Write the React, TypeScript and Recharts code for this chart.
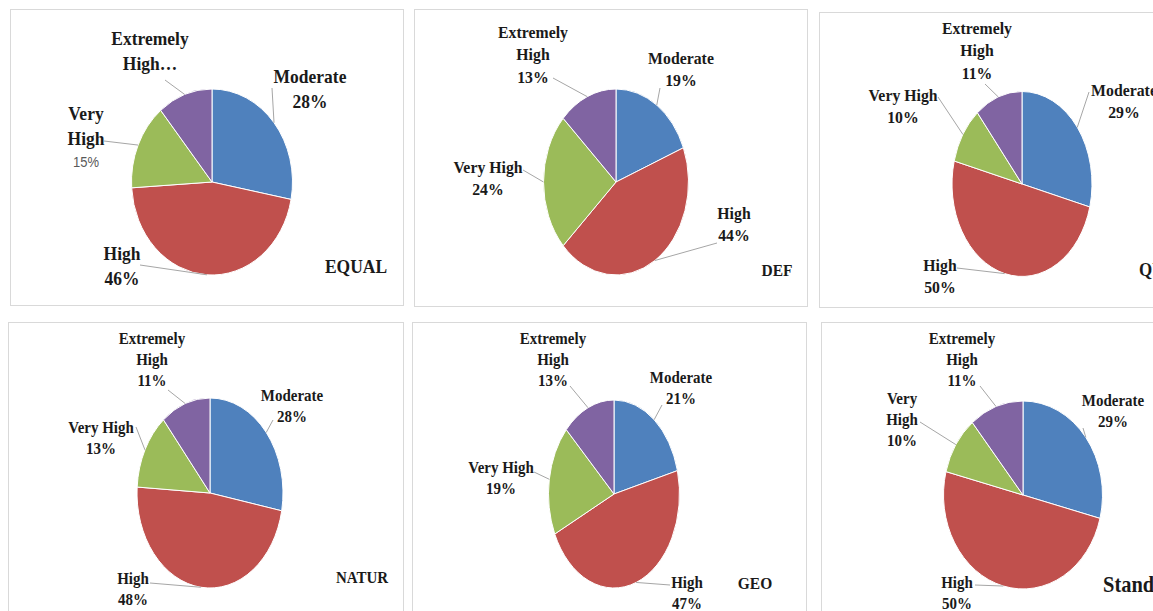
import { PieChart, Pie, Cell } from "recharts";

// 등급 / 색 (Excel 2007 팔레트)
const LEVELS = ["Moderate", "High", "Very High", "Extremely High"];
const SLICE_COLORS = ["#4F81BD", "#C0504D", "#9BBB59", "#8064A2"];

// 분류 방법별 비율(%)
const EQUAL_VALUES = [28, 46, 15, 11];
const DEF_VALUES = [19, 44, 24, 13];
const QUANTILE_VALUES = [29, 50, 10, 11];
const NATUR_VALUES = [28, 48, 13, 11];
const GEO_VALUES = [21, 47, 19, 13];
const STANDARD_VALUES = [29, 50, 10, 11];

const METHOD_NAMES = ["EQUAL", "DEF", "QUANTILE", "NATUR", "GEO", "Standard"];

const RAD = Math.PI / 180;

type LabelSpec = { x: number; y: number; ax: number; ay: number; split?: boolean; anchor?: "start" | "middle" };
type Panel = {
  values: number[];
  name: string;
  box: [number, number, number, number]; // left, top, width, height (page px)
  pie: [number, number, number, number]; // cx, cy, rx, ry (page px)
  font: number;
  labels: LabelSpec[];
  nameAt: [number, number, "start" | "middle"];
  nameFont: number;
  truncateTop?: boolean;
  plainPct?: number;
};

// 라벨 배치는 페이지 좌표로 적고 패널 원점만큼 빼서 쓴다.
const PANELS: Panel[] = [
  {
    values: EQUAL_VALUES,
    name: METHOD_NAMES[0],
    box: [10, 9, 394, 297],
    pie: [207, 177, 80.5, 93],
    font: 17.5,
    labels: [
      { x: 310, y: 76, ax: 272, ay: 88 },
      { x: 122, y: 253, ax: 140, ay: 265 },
      { x: 86, y: 113, ax: 104, ay: 141, split: true },
      { x: 150, y: 38, ax: 165, ay: 80, split: true },
    ],
    nameAt: [356, 266, "middle"],
    nameFont: 17.5,
    truncateTop: true,
    plainPct: 2,
  },
  {
    values: DEF_VALUES,
    name: METHOD_NAMES[1],
    box: [414, 9, 394, 298],
    pie: [611, 177, 72.5, 93],
    font: 15.8,
    labels: [
      { x: 681, y: 58, ax: 660, ay: 88 },
      { x: 734, y: 213, ax: 717, ay: 243 },
      { x: 488, y: 167, ax: 523, ay: 170 },
      { x: 533, y: 32, ax: 553, ay: 78, split: true },
    ],
    nameAt: [777, 270, "middle"],
    nameFont: 15.5,
  },
  {
    values: QUANTILE_VALUES,
    name: METHOD_NAMES[2],
    box: [819, 12, 420, 296],
    pie: [1017, 179, 70, 92.5],
    font: 15.8,
    labels: [
      { x: 1124, y: 90, ax: 1089, ay: 92 },
      { x: 940, y: 265, ax: 957, ay: 268 },
      { x: 903, y: 95, ax: 938, ay: 97 },
      { x: 977, y: 28, ax: 985, ay: 84, split: true },
    ],
    nameAt: [1139, 270, "start"],
    nameFont: 17,
  },
  {
    values: NATUR_VALUES,
    name: METHOD_NAMES[3],
    box: [8, 322, 396, 300],
    pie: [205, 488, 73, 95],
    font: 15,
    labels: [
      { x: 292, y: 395, ax: 273, ay: 420 },
      { x: 133, y: 578, ax: 150, ay: 583 },
      { x: 101, y: 427, ax: 136, ay: 427 },
      { x: 152, y: 338, ax: 168, ay: 390, split: true },
    ],
    nameAt: [362, 577, "middle"],
    nameFont: 15,
  },
  {
    values: GEO_VALUES,
    name: METHOD_NAMES[4],
    box: [412, 322, 395, 300],
    pie: [609, 489, 65.5, 94],
    font: 15,
    labels: [
      { x: 681, y: 377, ax: 662, ay: 405 },
      { x: 687, y: 582, ax: 670, ay: 585 },
      { x: 501, y: 467, ax: 534, ay: 472 },
      { x: 553, y: 338, ax: 570, ay: 386, split: true },
    ],
    nameAt: [755, 583, "middle"],
    nameFont: 15.5,
  },
  {
    values: STANDARD_VALUES,
    name: METHOD_NAMES[5],
    box: [821, 322, 420, 300],
    pie: [1018, 490, 79.5, 94],
    font: 15,
    labels: [
      { x: 1113, y: 400, ax: 1083, ay: 428 },
      { x: 957, y: 582, ax: 975, ay: 585 },
      { x: 902, y: 398, ax: 920, ay: 422, split: true },
      { x: 962, y: 338, ax: 980, ay: 386, split: true },
    ],
    nameAt: [1103, 585, "start"],
    nameFont: 20.5,
  },
];

function labelLines(panel: Panel, i: number): string[] {
  const level = LEVELS[i];
  const pct = `${panel.values[i]}%`;
  const spec = panel.labels[i];
  const head = spec.split ? level.split(" ") : [level];
  if (panel.truncateTop && i === 3) return [head[0], "High…"];
  return [...head, pct];
}

/** 타원 조각: 라이브러리가 준 각도를 rx/ry 타원 위에 그린다. */
function ellipseSlice(rx: number) {
  return (props: any) => {
    const { cx, cy, outerRadius, startAngle, endAngle, fill } = props;
    const ry = outerRadius;
    const sx = cx + rx * Math.cos(-startAngle * RAD);
    const sy = cy + ry * Math.sin(-startAngle * RAD);
    const ex = cx + rx * Math.cos(-endAngle * RAD);
    const ey = cy + ry * Math.sin(-endAngle * RAD);
    const delta = startAngle - endAngle;
    const large = Math.abs(delta) > 180 ? 1 : 0;
    const sweep = delta > 0 ? 1 : 0;
    const d = `M${cx},${cy} L${sx},${sy} A${rx},${ry} 0 ${large} ${sweep} ${ex},${ey} Z`;
    return <path d={d} fill={fill} stroke="#ffffff" strokeWidth={1} />;
  };
}

function PiePanel({ panel }: { panel: Panel }) {
  const [left, top, width, height] = panel.box;
  const [pcx, pcy, rx, ry] = panel.pie;
  const data = LEVELS.map((level, i) => ({ name: level, value: panel.values[i] }));
  const lineGap = panel.font * 1.42;
  const shape = ellipseSlice(rx);

  const renderLabel = (props: any) => {
    const i = typeof props.index === "number" ? props.index : LEVELS.indexOf(props.name);
    const spec = panel.labels[i];
    if (!spec) return null;
    const mid = props.midAngle;
    const ex = props.cx + rx * Math.cos(-mid * RAD);
    const ey = props.cy + ry * Math.sin(-mid * RAD);
    const lines = labelLines(panel, i);
    return (
      <g key={`lbl-${i}`}>
        <line x1={ex} y1={ey} x2={spec.ax - left} y2={spec.ay - top} stroke="#a6a6a6" strokeWidth={1} />
        {lines.map((t, k) => {
          const plain = panel.plainPct === i && k === lines.length - 1;
          return (
            <text
              key={k}
              transform={`translate(${spec.x - left},${spec.y - top + k * lineGap}) scale(1,1.12)`}
              textAnchor={spec.anchor ?? "middle"}
              dominantBaseline="central"
              fontFamily={plain ? "'Liberation Sans', Arial, sans-serif" : "'Liberation Serif', 'Times New Roman', serif"}
              fontWeight={plain ? 400 : 700}
              fontSize={plain ? 13 : panel.font}
              fill={plain ? "#595959" : "#1a1a1a"}
            >
              {t}
            </text>
          );
        })}
      </g>
    );
  };

  return (
    <div style={{ position: "absolute", left, top, width, height }}>
      <div
        style={{
          position: "absolute",
          inset: 0,
          border: "1px solid #d9d9d9",
          boxSizing: "border-box",
        }}
      />
      <div style={{ position: "absolute", left: 0, top: 0 }}>
        <PieChart width={width} height={height}>
          <Pie
            data={data}
            dataKey="value"
            nameKey="name"
            cx={pcx - left}
            cy={pcy - top}
            outerRadius={ry}
            startAngle={90}
            endAngle={-270}
            stroke="#ffffff"
            strokeWidth={1}
            shape={shape}
            label={renderLabel}
            labelLine={false}
            isAnimationActive={false}
          >
            {data.map((_, i) => (
              <Cell key={i} fill={SLICE_COLORS[i]} />
            ))}
          </Pie>
          <text
            transform={`translate(${panel.nameAt[0] - left},${panel.nameAt[1] - top}) scale(1,1.12)`}
            textAnchor={panel.nameAt[2]}
            dominantBaseline="central"
            fontFamily="'Liberation Serif', 'Times New Roman', serif"
            fontWeight={700}
            fontSize={panel.nameFont}
            fill="#1a1a1a"
          >
            {panel.name}
          </text>
        </PieChart>
      </div>
    </div>
  );
}

export default function App() {
  return (
    <div
      style={{
        position: "fixed",
        left: 0,
        top: 0,
        width: 1153,
        height: 611,
        overflow: "hidden",
        background: "#ffffff",
      }}
    >
      {PANELS.map((p) => (
        <PiePanel key={p.name} panel={p} />
      ))}
    </div>
  );
}
